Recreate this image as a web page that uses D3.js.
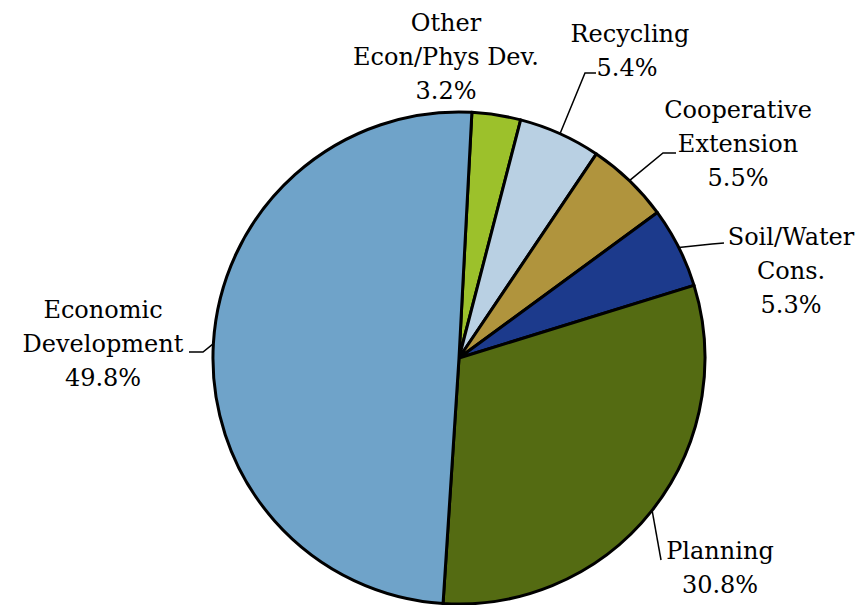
<!DOCTYPE html>
<html>
<head>
<meta charset="utf-8">
<script src="https://cdn.jsdelivr.net/npm/d3@7"></script>
<style>
  html, body { margin: 0; padding: 0; background: #fff; }
  svg { display: block; }
  text { font-family: "DejaVu Serif", "Liberation Serif", serif; font-size: 24px; fill: #000; }
</style>
</head>
<body>
<svg id="chart" width="867" height="605"></svg>
<script>
// Budget shares by program area
const categories = ["Other Econ/Phys Dev.", "Recycling", "Cooperative Extension", "Soil/Water Cons.", "Planning", "Economic Development"];
const values = [3.2, 5.4, 5.5, 5.3, 30.8, 49.8];
const labelLines = [["Other", "Econ/Phys Dev."], ["Recycling"], ["Cooperative", "Extension"], ["Soil/Water", "Cons."], ["Planning"], ["Economic", "Development"]];
const colors = ["#9cc12b", "#b9d0e3", "#b0943d", "#1c3a8c", "#546b12", "#6fa3c9"];

const width = 867, height = 605;
const cx = 459, cy = 358, radius = 246;
const rot = 3 * Math.PI / 180;

// Label placement: text centre, first baseline, and leader path (bend, end)
const placement = {
  "Other Econ/Phys Dev.": { x: 446, y: 31 },
  "Recycling": { x: 630, y: 42, pctX: 627, bend: [585, 73], end: [596, 73] },
  "Cooperative Extension": { x: 738, y: 118, bend: [663, 153], end: [676, 153] },
  "Soil/Water Cons.": { x: 791, y: 245, bend: [712, 244], end: [724, 243] },
  "Planning": { x: 720, y: 559, bend: null, end: [661, 560] },
  "Economic Development": { x: 103, y: 318, bend: [203, 352], end: [189, 352] }
};
const lineH = 34;

const data = categories.map((c, i) => ({ name: c, value: values[i], lines: labelLines[i], color: colors[i] }));

const pie = d3.pie().value(d => d.value).sort(null)
  .startAngle(rot).endAngle(rot + 2 * Math.PI);
const arc = d3.arc().innerRadius(0).outerRadius(radius);
const fmt = d3.format(".1f");

const svg = d3.select("#chart");
const g = svg.append("g").attr("transform", `translate(${cx},${cy})`);

const arcs = pie(data);

g.selectAll("path.slice")
  .data(arcs)
  .join("path")
  .attr("class", "slice")
  .attr("d", arc)
  .attr("fill", d => d.data.color)
  .attr("stroke", "#000")
  .attr("stroke-width", 3)
  .attr("stroke-linejoin", "round");

// Leader lines from the slice edge to the label
const leaders = svg.append("g");
arcs.forEach(a => {
  const p = placement[a.data.name];
  if (!p.end) return;
  const mid = (a.startAngle + a.endAngle) / 2;
  const sx = cx + radius * Math.sin(mid);
  const sy = cy - radius * Math.cos(mid);
  const pts = [[sx, sy]];
  if (p.bend) pts.push(p.bend);
  pts.push(p.end);
  leaders.append("path")
    .attr("d", d3.line()(pts))
    .attr("fill", "none")
    .attr("stroke", "#000")
    .attr("stroke-width", 1.5);
});

// Labels: category name lines followed by the percentage
const labels = svg.append("g");
arcs.forEach(a => {
  const p = placement[a.data.name];
  const lines = a.data.lines.concat([fmt(a.data.value) + "%"]);
  lines.forEach((t, i) => {
    const isPct = i === lines.length - 1;
    labels.append("text")
      .attr("x", isPct && p.pctX ? p.pctX : p.x)
      .attr("y", p.y + i * lineH)
      .attr("text-anchor", "middle")
      .text(t);
  });
});
</script>
</body>
</html>
